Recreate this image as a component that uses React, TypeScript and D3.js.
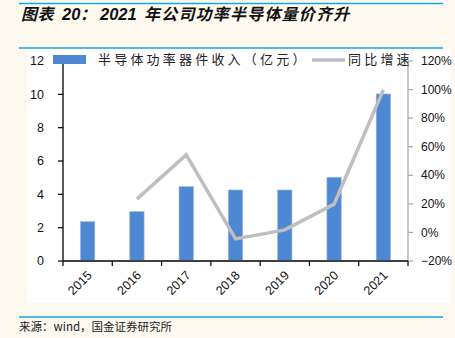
import React from "react";
import * as d3 from "d3";

const years = ["2015", "2016", "2017", "2018", "2019", "2020", "2021"];
const revenue = [2.36, 2.96, 4.46, 4.26, 4.26, 5.02, 10.02];
const growthYears = ["2016", "2017", "2018", "2019", "2020", "2021"];
const growth = [0.233, 0.543, -0.045, 0.018, 0.198, 0.998];
const leftTicks = [0, 2, 4, 6, 8, 10, 12];
const rightTicks = [-0.2, 0, 0.2, 0.4, 0.6, 0.8, 1.0, 1.2];

const W = 455;
const H = 338;
const plotL = 63;
const plotR = 408;
const plotT = 61;
const plotB = 261;

const BLUE_RULE = "#1AA3E6";
const BAR = "#4F88D2";
const LINE = "#BFBFBF";
const LATIN = "'Liberation Sans', Arial, sans-serif";
const CJK = "'Noto Sans CJK SC', sans-serif";

export default function App() {
  const x = d3.scaleBand<string>().domain(years).range([plotL, plotR]).paddingInner(0.71).paddingOuter(0.355);
  const xc = d3.scaleBand<string>().domain(years).range([plotL, plotR]);
  const yL = d3.scaleLinear().domain([0, 12]).range([plotB, plotT]);
  const yR = d3.scaleLinear().domain([-0.2, 1.2]).range([plotB, plotT]);
  const line = d3
    .line<number>()
    .x((_, i) => (xc(growthYears[i]) as number) + xc.bandwidth() / 2)
    .y((d) => yR(d));
  const pct = d3.format(".0%");
  const boundaries = d3.range(years.length + 1).map((i) => plotL + i * xc.step());

  return (
    <svg
      width={W}
      height={H}
      style={{ position: "absolute", left: 0, top: 0, display: "block" }}
    >
      <rect x={0} y={0} width={W} height={H} fill="#FDF9EF" />
      <line x1={19} x2={443} y1={3.5} y2={3.5} stroke={BLUE_RULE} strokeWidth={1.5} />
      <text
        y={19.5}
        fontFamily={CJK}
        fontSize={16}
        fontWeight="bold"
        fontStyle="italic"
        fill="#111"
      >
        <tspan x={21} letterSpacing={0.6}>图表</tspan>
        <tspan x={62} fontFamily={LATIN} fontSize={16.5}>20</tspan>
        <tspan x={80}>：</tspan>
        <tspan x={100} fontFamily={LATIN} fontSize={16.5}>2021</tspan>
        <tspan x={144} letterSpacing={1.2}>年公司功率半导体量价齐升</tspan>
      </text>
      <line x1={19} x2={443} y1={48} y2={48} stroke={BLUE_RULE} strokeWidth={1.5} />
      <rect x={27} y={49} width={424} height={254} fill="#FFFFFF" />

      {/* bars */}
      {years.map((yr, i) => (
        <rect
          key={yr}
          x={x(yr)}
          y={yL(revenue[i])}
          width={x.bandwidth()}
          height={plotB - yL(revenue[i])}
          fill={BAR}
          stroke="#8DB3E5"
          strokeWidth={0.6}
        />
      ))}

      {/* left axis */}
      <line x1={plotL} x2={plotL} y1={plotT} y2={plotB} stroke="#000" strokeWidth={1.3} />
      {leftTicks.map((t) => (
        <g key={t}>
          <line x1={plotL - 5} x2={plotL} y1={yL(t)} y2={yL(t)} stroke="#000" strokeWidth={1.2} />
          <text
            x={plotL - 19}
            y={yL(t)}
            dy="0.35em"
            textAnchor="end"
            fontFamily={LATIN}
            fontSize={12.5}
            fill="#111"
          >
            {t}
          </text>
        </g>
      ))}

      {/* right axis */}
      <line x1={plotR} x2={plotR} y1={plotT} y2={plotB} stroke="#A6A6A6" strokeWidth={1.2} />
      {rightTicks.map((t) => (
        <g key={t}>
          <line x1={plotR} x2={plotR + 5} y1={yR(t)} y2={yR(t)} stroke="#A6A6A6" strokeWidth={1.2} />
          <text
            x={plotR + 13}
            y={yR(t)}
            dy="0.35em"
            textAnchor="start"
            fontFamily={LATIN}
            fontSize={12}
            fill="#111"
          >
            {t < 0 ? "\u2212" + pct(-t) : pct(t)}
          </text>
        </g>
      ))}

      {/* growth line */}
      <path d={line(growth) || ""} fill="none" stroke={LINE} strokeWidth={3.5} strokeLinejoin="miter" />

      {/* x axis baseline */}
      <line x1={plotL} x2={plotR} y1={plotB} y2={plotB} stroke="#404040" strokeWidth={2} />
      {boundaries.map((bx, i) => (
        <line key={i} x1={bx} x2={bx} y1={plotB} y2={plotB + 5} stroke="#000" strokeWidth={1.2} />
      ))}
      {years.map((yr) => {
        const cx = (xc(yr) as number) + xc.bandwidth() / 2 + 2;
        const cy = plotB + 12;
        return (
          <text
            key={yr}
            transform={`translate(${cx},${cy}) rotate(-45)`}
            textAnchor="end"
            dy="0.35em"
            fontFamily={LATIN}
            fontSize={12.5}
            fill="#111"
          >
            {yr}
          </text>
        );
      })}

      {/* legend */}
      <rect x={53} y={55} width={33} height={9} fill={BAR} />
      <text
        x={98}
        y={59.5}
        dy="0.35em"
        fontFamily={CJK}
        fontSize={13}
        letterSpacing={3.2}
        fill="#222"
      >
        半导体功率器件收入（亿元）
      </text>
      <line x1={312} x2={345} y1={60} y2={60} stroke={LINE} strokeWidth={3.5} />
      <text
        x={348}
        y={59.5}
        dy="0.35em"
        fontFamily={CJK}
        fontSize={13}
        letterSpacing={3.2}
        fill="#222"
      >
        同比增速
      </text>

      <line x1={19} x2={443} y1={317} y2={317} stroke={BLUE_RULE} strokeWidth={1.5} />
      <text x={19} y={327} dy="0.35em" fontFamily={CJK} fontSize={11.5} fill="#222">
        来源：wind，国金证券研究所
      </text>
    </svg>
  );
}
